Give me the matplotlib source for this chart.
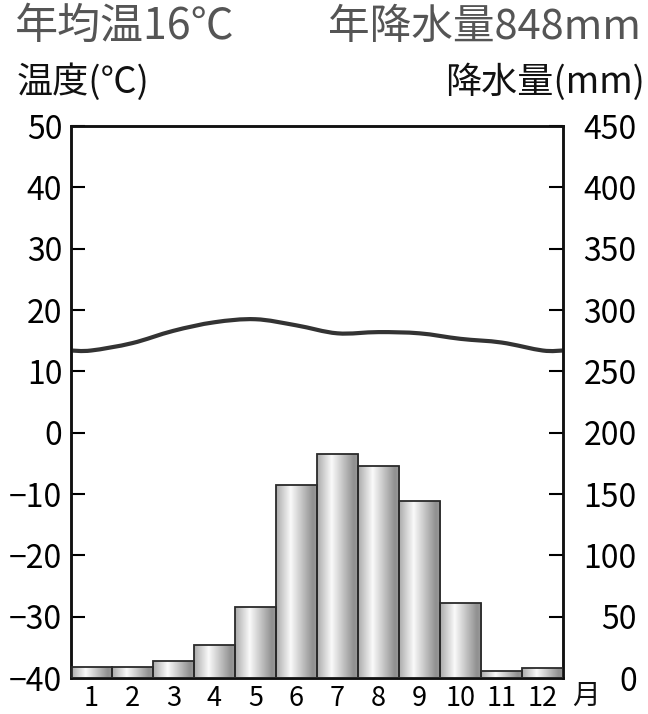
import numpy as np
import matplotlib
matplotlib.use("Agg")
import matplotlib.pyplot as plt
from matplotlib.colors import LinearSegmentedColormap
from matplotlib.path import Path
from matplotlib.patches import PathPatch

plt.rcParams['font.family'] = ['Noto Sans CJK JP', 'DejaVu Sans']

# climate data
months = [1, 2, 3, 4, 5, 6, 7, 8, 9, 10, 11, 12]
month_labels = ["1", "2", "3", "4", "5", "6", "7", "8", "9", "10", "11", "12"]
temperature = [13.4, 14.6, 16.6, 18.0, 18.5, 17.5, 16.2, 16.4, 16.2, 15.3, 14.7, 13.4]
precipitation = [9, 9, 14, 27, 58, 157, 183, 173, 144, 61, 6, 8]

temp_ticks = [-40, -30, -20, -10, 0, 10, 20, 30, 40, 50]
prec_ticks = [0, 50, 100, 150, 200, 250, 300, 350, 400, 450]

title_temp = "年均温16℃"
title_prec = "年降水量848mm"

fig = plt.figure(figsize=(6.48, 7.14), dpi=100)
ax = fig.add_axes([0.109, 0.0504, 0.760, 0.7731])
ax2 = ax.twinx()

# precipitation bars with cylinder-like shading
shade = LinearSegmentedColormap.from_list(
    "shade", [(0, "#aaaaaa"), (0.35, "#fafafa"), (0.88, "#909090"), (1, "#9c9c9c")])
grad = np.linspace(0, 1, 256).reshape(1, -1)
bars = ax2.bar(months, precipitation, width=1.0, color="none",
               edgecolor="#2a2a2a", linewidth=1.3, zorder=3)
for b in bars:
    x0, y0 = b.get_x(), b.get_y()
    im = ax2.imshow(grad, cmap=shade, aspect="auto", zorder=2,
                    extent=[x0, x0 + b.get_width(), y0, y0 + b.get_height()])
    im.set_clip_path(b)

# smooth temperature curve through the monthly values
xs = [0.5] + months + [12.5]
ys = [temperature[0]] + temperature + [temperature[-1]]
pts = np.column_stack([xs, ys])
verts = [pts[0]]
codes = [Path.MOVETO]
n = len(pts)
for i in range(n - 1):
    p0 = pts[max(i - 1, 0)]
    p1 = pts[i]
    p2 = pts[i + 1]
    p3 = pts[min(i + 2, n - 1)]
    c1 = p1 + (p2 - p0) / 6.0
    c2 = p2 - (p3 - p1) / 6.0
    verts += [c1, c2, p2]
    codes += [Path.CURVE4] * 3
ax.add_patch(PathPatch(Path(verts, codes), fill=False, edgecolor="#333333",
                       linewidth=3.0, capstyle="butt", zorder=4))

ax.set_xlim(0.5, 12.5)
ax.set_ylim(-40, 50)
ax2.set_ylim(0, 450)
ax.set_yticks(temp_ticks)
ax2.set_yticks(prec_ticks)
ax.set_xticks(months)
ax.set_xticklabels(month_labels)

ax.tick_params(axis="y", direction="in", length=10, width=1.5, labelsize=23, pad=6)
ax2.tick_params(axis="y", direction="in", length=10, width=1.5, labelsize=23, pad=53)
for lab in ax2.get_yticklabels():
    lab.set_horizontalalignment("right")
ax.tick_params(axis="x", length=0, labelsize=19.5, pad=5)

for a in (ax, ax2):
    for s in a.spines.values():
        s.set_linewidth(1.8)
        s.set_color("#111111")

fig.text(0.023, 0.962, title_temp, fontsize=31, color="#555555", ha="left", va="center")
fig.text(0.989, 0.962, title_prec, fontsize=30, color="#555555", ha="right", va="center")
fig.text(0.026, 0.885, "温度(℃)", fontsize=26, color="#111111", ha="left", va="center")
fig.text(0.995, 0.885, "降水量(mm)", fontsize=26, color="#111111", ha="right", va="center")
fig.text(0.904, 0.025, "月", fontsize=20, color="#111111", ha="center", va="center")

fig.savefig("out.png", dpi=100)
